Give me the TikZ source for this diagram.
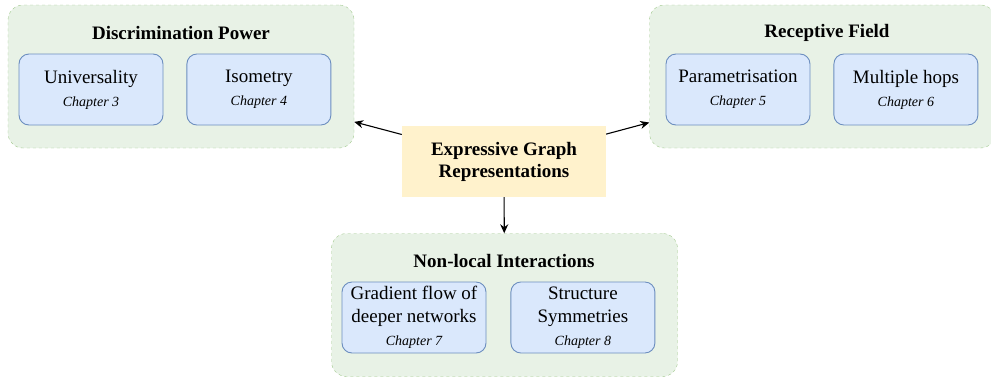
\documentclass[tikz,border=0pt]{standalone}
\usepackage{fontspec}
\setmainfont{Liberation Serif}
\usetikzlibrary{arrows.meta, positioning, shapes.geometric}
\definecolor{groupfill}{RGB}{232,242,230}
\definecolor{groupline}{RGB}{160,200,140}
\definecolor{chapfill}{RGB}{218,232,252}
\definecolor{chapline}{RGB}{108,142,191}
\definecolor{corefill}{RGB}{255,242,204}

\begin{document}
\begin{tikzpicture}[x=1pt, y=-1pt,
		group/.style = {draw=groupline, dashed, fill=groupfill, rounded corners=15pt, minimum width=346pt, minimum height=143pt},
		title/.style = {font=\fontsize{19}{22}\selectfont\bfseries},
		chap/.style = {draw=chapline, fill=chapfill, line width=0.9pt, rounded corners=10pt, minimum width=144pt, minimum height=71pt, align=center, font=\fontsize{19}{23}\selectfont},
		core/.style = {fill=corefill, minimum width=204pt, minimum height=71pt, align=center, font=\fontsize{19}{22}\selectfont\bfseries},
		link/.style = {-{Stealth[length=9pt,width=8pt]}, line width=1.1pt}
		]
		\useasboundingbox (0,0) rectangle (991,378);
		\newcommand{\chapno}[1]{\\{\fontsize{14}{16}\selectfont\itshape Chapter #1}}
		
		% groups
		\node (disc) [group] at (181,76.5) {};
		\node (recep) [group] at (822.5,76.5) {};
		\node (nonloc) [group] at (504.5,305) {};
		
		\node (discT) [title] at (181,33) {Discrimination Power};
		\node (recepT) [title] at (827,33) {Receptive Field};
		\node (nonlocT) [title] at (504,261) {Non-local Interactions};
		
		% chapters
		\node (univ) [chap] at (91,89.5) {Universality\chapno{3}};
		\node (iso) [chap,right=23pt of univ] {Isometry\chapno{4}};
		\node (param) [chap] at (738,89.5) {Parametrisation\chapno{5}};
		\node (hops) [chap,right=23pt of param] {Multiple hops\chapno{6}};
		\node (grad) [chap] at (414,317.5) {Gradient flow of\\deeper networks\chapno{7}};
		\node (sym) [chap,right=24pt of grad] {Structure\\Symmetries\chapno{8}};
		
		\node (egr) [core] at (504,161.5) {Expressive Graph\\Representations};
		
		\draw[link] (egr) -- (disc);
		\draw[link] (egr) -- (recep);
		\draw[link] (egr) -- (nonloc);
	\end{tikzpicture}
\end{document}
